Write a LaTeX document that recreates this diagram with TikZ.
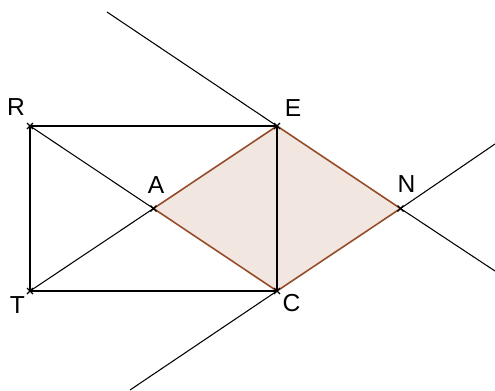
\documentclass[tikz,border=0pt]{standalone}
\usepackage{fontspec}
\setmainfont{Liberation Sans}
\usetikzlibrary{calc}
\definecolor{rhombfill}{RGB}{242,230,225}
\definecolor{rhombedge}{RGB}{150,75,40}
\tikzset{
  pt/.style={line width=0.7pt},
  lbl/.style={font=\fontsize{14}{16}\selectfont, inner sep=0pt}
}
\begin{document}
\begin{tikzpicture}[x=0.02cm, y=-0.02cm, line width=0.6pt]
    \useasboundingbox (0,0) rectangle (495,390);
    % Points
    \coordinate (R) at (30,126);
    \coordinate (E) at (277,126);
    \coordinate (T) at (30,291);
    \coordinate (C) at (277,291);
    \coordinate (A) at (153.5,208.5);
    \coordinate (N) at (400.5,208.5);
    % Free ends of the two long lines
    \coordinate (L1) at (107,12);
    \coordinate (L2) at (495,271);
    \coordinate (L3) at (130,390);
    \coordinate (L4) at (495,144);

    % Rhombus A E N C
    \filldraw[fill=rhombfill, draw=rhombedge, line width=0.9pt] (A) -- (E) -- (N) -- (C) -- cycle;

    % Rectangle and diagonals
    \draw (R) -- (E) -- (C) -- (T) -- cycle;
    \draw (R) -- (A);
    \draw (T) -- (A);

    % Long lines
    \draw (L1) -- (E);
    \draw (N) -- (L2);
    \draw (L3) -- (C);
    \draw (N) -- (L4);

    % Crosses
    \foreach \p in {R,E,T,C,A,N}
        \draw[pt] ($(\p)+(-3,-3)$) -- ($(\p)+(3,3)$) ($(\p)+(-3,3)$) -- ($(\p)+(3,-3)$);

    % Labels
    \node[lbl] (labR) at (16,107) {R};
    \node[lbl] (labE) at (293,108.5) {E};
    \node[lbl] (labT) at (17.5,305) {T};
    \node[lbl] (labC) at (291.5,303.5) {C};
    \node[lbl] (labA) at (156,185.5) {A};
    \node[lbl] (labN) at (406.5,184.5) {N};
\end{tikzpicture}
\end{document}
